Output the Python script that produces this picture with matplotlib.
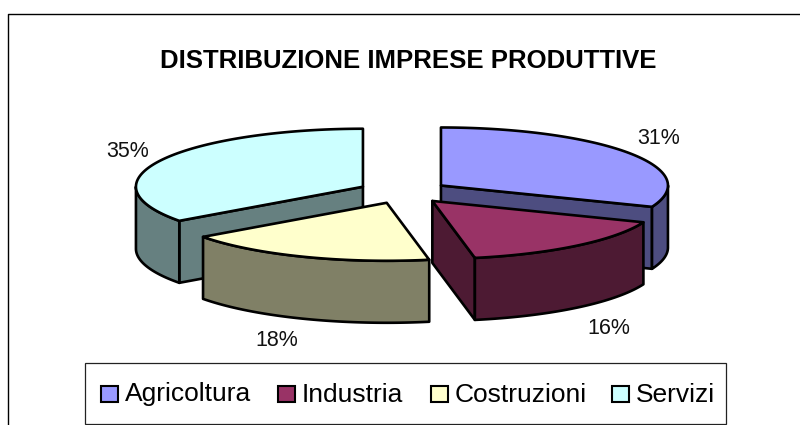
import numpy as np
import matplotlib
matplotlib.use("Agg")
import matplotlib.pyplot as plt
from matplotlib.patches import Polygon, Rectangle

plt.rcParams['font.family'] = ['Liberation Sans', 'DejaVu Sans']

title = 'DISTRIBUZIONE IMPRESE PRODUTTIVE'
categories = ['Agricoltura', 'Industria', 'Costruzioni', 'Servizi']
shares = [31, 16, 18, 35]
top_colors = ['#9999FF', '#993366', '#FFFFCC', '#CCFFFF']
side_colors = ['#4D4D80', '#4D1A33', '#808066', '#668080']

# pie geometry in pixels
cx, cy = 403.4, 192.0
a, b = 227, 58
depth = 62
explode = 0.2
lw = 1.9


def ell(ang, x0, y0):
    r = np.radians(ang)
    return x0 + a * np.sin(r), y0 - b * np.cos(r)


def poly(ax, xs, ys, color, z):
    ax.add_patch(Polygon(np.column_stack([xs, ys]), closed=True, facecolor=color,
                         edgecolor='black', linewidth=lw, joinstyle='round', zorder=z))


def draw_slice(ax, start, end, top, side, z):
    mid = np.radians((start + end) / 2)
    x0 = cx + explode * a * np.sin(mid)
    y0 = cy - explode * b * np.cos(mid)

    # radial walls, only the ones facing the viewer
    for ang, visible in ((start, start >= 180), (end, end <= 180)):
        if visible and ang > 0:
            xe, ye = ell(ang, x0, y0)
            poly(ax, [x0, xe, xe, x0], [y0, ye, ye + depth, y0 + depth], side, z)

    # outer rim, front half only
    r0, r1 = max(start, 90), min(end, 270)
    if r1 > r0:
        t = np.linspace(r0, r1, 80)
        xs, ys = ell(t, x0, y0)
        poly(ax, np.r_[xs, xs[::-1]], np.r_[ys, ys[::-1] + depth], side, z)

    t = np.linspace(start, end, 160)
    xs, ys = ell(t, x0, y0)
    poly(ax, np.r_[x0, xs], np.r_[y0, ys], top, z + 0.5)


fig = plt.figure(figsize=(8, 4.25), dpi=100)
ax = fig.add_axes([0, 0, 1, 1])
ax.set_xlim(0, 800)
ax.set_ylim(425, 0)
ax.axis('off')

# chart frame, cut off at the bottom and on the right
ax.plot([8, 8, 800], [425, 13.5, 13.5], color='black', lw=1.0, zorder=1)

ax.text(408.5, 61, title, ha='center', va='center', fontsize=18.5, fontweight='bold')

edges = np.cumsum([0] + shares) * 3.6
# back slices first, front ones over them
for z, i in enumerate((3, 0, 1, 2)):
    draw_slice(ax, edges[i], edges[i + 1], top_colors[i], side_colors[i], 2 + z)

label_pos = [(658.5, 138), (609, 329), (277, 340), (128, 151.5)]
for s, (x, y) in zip(shares, label_pos):
    ax.text(x, y, f'{s}%', ha='center', va='center', fontsize=15.5, color='#111111', zorder=10)

# legend box, runs to the bottom edge
ax.add_patch(Rectangle((85, 362.5), 641, 61.5, facecolor='white', edgecolor='#222222', lw=0.9, zorder=1))
swatch_x = [101, 278, 431, 612]
for name, col, x in zip(categories, top_colors, swatch_x):
    ax.add_patch(Rectangle((x, 386), 16.5, 16, facecolor=col, edgecolor='black', lw=1.5, zorder=2))
    ax.text(x + 24, 394.5, name, ha='left', va='center', fontsize=19, zorder=2)

fig.savefig('out.png', dpi=100)
